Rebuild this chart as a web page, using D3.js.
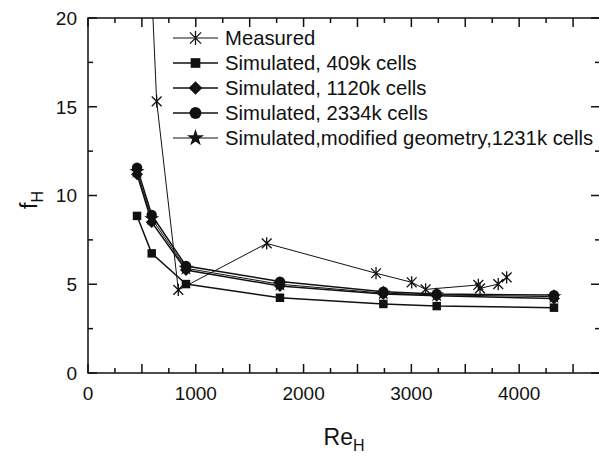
<!DOCTYPE html>
<html>
<head>
<meta charset="utf-8"/>
<script src="https://cdnjs.cloudflare.com/ajax/libs/d3/7.8.5/d3.min.js"></script>
<style>
  body { margin: 0; background: #fff; }
  text { font-family: "Liberation Sans", Arial, sans-serif; fill: #111; }
</style>
</head>
<body>
<script>
// data
const measuredRe = [450, 637, 838, 1658, 2672, 3003, 3132, 3621, 3637, 3806, 3884];
const measuredF  = [41, 15.3, 4.68, 7.3, 5.62, 5.11, 4.71, 4.96, 4.77, 5.01, 5.39];

const simRe = [455, 591, 909, 1781, 2740, 3235, 4323];
const f409  = [8.85, 6.74, 5.01, 4.24, 3.89, 3.77, 3.68];
const f1120 = [11.2, 8.5, 5.8, 4.9, 4.45, 4.35, 4.2];
const f2334 = [11.57, 8.9, 6.03, 5.15, 4.58, 4.45, 4.39];
const fMod  = [11.35, 8.7, 5.9, 5.0, 4.5, 4.4, 4.3];

const seriesNames = ["Measured", "Simulated, 409k cells", "Simulated, 1120k cells",
                     "Simulated, 2334k cells", "Simulated,modified geometry,1231k cells"];
const xTickLabels = [0, 1000, 2000, 3000, 4000];
const yTickLabels = [0, 5, 10, 15, 20];

// asterisk: vertical bar plus an X
const asterisk = {
  draw(ctx, size) {
    const r = Math.sqrt(size) / 2;
    const d = r * 0.8;
    ctx.moveTo(0, -r); ctx.lineTo(0, r);
    ctx.moveTo(-d, -d); ctx.lineTo(d, d);
    ctx.moveTo(-d, d); ctx.lineTo(d, -d);
  }
};
// square turned 45 degrees (d3's diamond is too narrow)
const rhomb = {
  draw(ctx, size) {
    const r = Math.sqrt(size) / 1.42;
    ctx.moveTo(0, -r); ctx.lineTo(r, 0); ctx.lineTo(0, r); ctx.lineTo(-r, 0); ctx.closePath();
  }
};

const series = [
  {name: seriesNames[0], xs: measuredRe, ys: measuredF, sym: asterisk, size: 150, lw: 1, stroke: true},
  {name: seriesNames[1], xs: simRe, ys: f409, sym: d3.symbolSquare, size: 72, lw: 1.5},
  {name: seriesNames[2], xs: simRe, ys: f1120, sym: rhomb, size: 72, lw: 1.5},
  {name: seriesNames[3], xs: simRe, ys: f2334, sym: d3.symbolCircle, size: 85, lw: 1.5},
  {name: seriesNames[4], xs: simRe, ys: fMod, sym: d3.symbolStar, size: 70, lw: 1}
];

const W = 599, H = 456;
const m = {left: 88, top: 18, right: 600, bottom: 373};

const svg = d3.select("body").append("svg").attr("width", W).attr("height", H);

const x = d3.scaleLinear().domain([0, 4750]).range([m.left, m.right]);
const y = d3.scaleLinear().domain([0, 20]).range([m.bottom, m.top]);

svg.append("clipPath").attr("id", "plot")
  .append("rect").attr("x", m.left).attr("y", m.top)
  .attr("width", m.right - m.left).attr("height", m.bottom - m.top);

// frame with inward ticks on all sides
const minorX = d3.range(0, 4751, 250), minorY = d3.range(0, 20.1, 2.5);
const axes = svg.append("g").attr("stroke", "#111").attr("stroke-width", 1.5);
axes.append("rect").attr("x", m.left).attr("y", m.top)
  .attr("width", m.right - m.left).attr("height", m.bottom - m.top).attr("fill", "none");
minorX.forEach(v => {
  const len = v % 500 === 0 ? 9 : 5;
  axes.append("line").attr("x1", x(v)).attr("x2", x(v)).attr("y1", m.bottom).attr("y2", m.bottom - len);
  axes.append("line").attr("x1", x(v)).attr("x2", x(v)).attr("y1", m.top).attr("y2", m.top + len);
});
minorY.forEach(v => {
  const len = v % 5 === 0 ? 9 : 5;
  axes.append("line").attr("y1", y(v)).attr("y2", y(v)).attr("x1", m.left).attr("x2", m.left + len);
  axes.append("line").attr("y1", y(v)).attr("y2", y(v)).attr("x1", m.right).attr("x2", m.right - len);
});

svg.append("g").selectAll("text").data(xTickLabels).join("text")
  .attr("x", d => x(d)).attr("y", 400).attr("text-anchor", "middle")
  .attr("font-size", 19).text(d => d);
svg.append("g").selectAll("text").data(yTickLabels).join("text")
  .attr("x", 77).attr("y", d => y(d)).attr("dy", "0.36em").attr("text-anchor", "end")
  .attr("font-size", 19).text(d => d);

// axis titles
const xt = svg.append("text").attr("x", 344).attr("y", 445).attr("text-anchor", "middle").attr("font-size", 23);
xt.append("tspan").text("Re");
xt.append("tspan").attr("font-size", 16).attr("dy", 6).text("H");
const yt = svg.append("text").attr("transform", "translate(37,200) rotate(-90)")
  .attr("text-anchor", "middle").attr("font-size", 23);
yt.append("tspan").text("f");
yt.append("tspan").attr("font-size", 16).attr("dy", 6).text("H");

// lines and markers
const plot = svg.append("g").attr("clip-path", "url(#plot)");
series.forEach(s => {
  const pts = s.xs.map((v, i) => [v, s.ys[i]]);
  plot.append("path").datum(pts)
    .attr("fill", "none").attr("stroke", "#111").attr("stroke-width", s.lw)
    .attr("d", d3.line().x(d => x(d[0])).y(d => y(d[1])));
  plot.selectAll(null).data(pts).join("path")
    .attr("transform", d => `translate(${x(d[0])},${y(d[1])})`)
    .attr("d", d3.symbol().type(s.sym).size(s.size))
    .attr("fill", s.stroke ? "none" : "#111")
    .attr("stroke", s.stroke ? "#111" : "none").attr("stroke-width", 1.3);
});

// legend
const leg = svg.append("g");
series.forEach((s, i) => {
  const ly = 38 + i * 25;
  leg.append("line").attr("x1", 173).attr("x2", 218).attr("y1", ly).attr("y2", ly)
    .attr("stroke", "#111").attr("stroke-width", s.lw);
  leg.append("path").attr("transform", `translate(195.5,${ly})`)
    .attr("d", d3.symbol().type(s.sym).size(s.size * 1.3))
    .attr("fill", s.stroke ? "none" : "#111")
    .attr("stroke", s.stroke ? "#111" : "none").attr("stroke-width", 1.3);
  leg.append("text").attr("x", 225).attr("y", ly).attr("dy", "0.36em")
    .attr("font-size", 20.3).text(s.name);
});
</script>
</body>
</html>
